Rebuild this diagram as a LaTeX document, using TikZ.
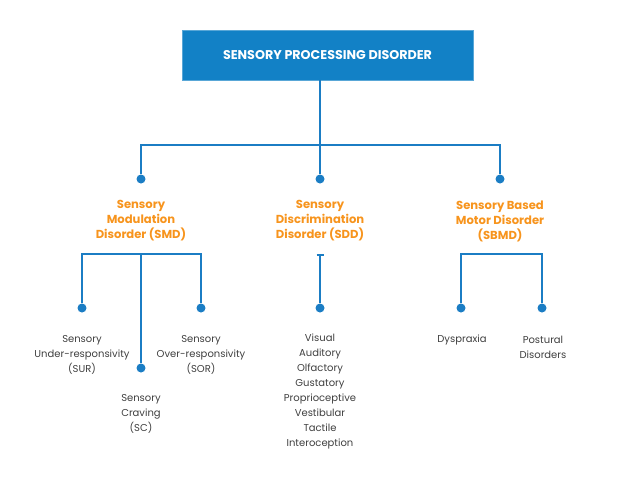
\documentclass[tikz,border=0pt]{standalone}
\usepackage{fontspec}
\setmainfont{Poppins}
\usepackage{tikz}
\usetikzlibrary{arrows.meta, positioning, calc}
\definecolor{spdblue}{HTML}{1281C6}
\definecolor{spdline}{HTML}{1B7DC4}
\definecolor{spdorange}{HTML}{F7941D}
\definecolor{spdgray}{HTML}{3F3F3F}

\begin{document}
\begin{tikzpicture}[
  x=1pt, y=-1pt,
  topbox/.style={rectangle, fill=spdblue, draw=spdblue!70, text=white, minimum width=291pt, minimum height=50pt, inner sep=0pt, font=\fontsize{12.7}{14}\selectfont\bfseries},
  group/.style={text=spdorange, align=center, inner sep=0pt, font=\fontsize{11.6}{15}\selectfont\bfseries},
  item/.style={text=spdgray, align=center, inner sep=0pt, font=\fontsize{10}{15}\selectfont},
  dot/.style={circle, fill=spdline, minimum size=9pt, inner sep=0pt},
  link/.style={draw=spdline, line width=2pt}
]
  \useasboundingbox (0,0) rectangle (619,480);

  \node[topbox] (spd) at (327.5,55) {SENSORY PROCESSING DISORDER};

  % level 1
  \coordinate (bus) at (320,145);
  \node[dot] (smddot) at (141,179) {};
  \node[dot] (sdddot) at (320,179) {};
  \node[dot] (sbmddot) at (500,179) {};

  \node[group] (smd) at (141,221) {Sensory\\Modulation\\Disorder (SMD)};
  \node[group] (sdd) at (320,221) {Sensory\\Discrimination\\Disorder (SDD)};
  \node[group] (sbmd) at (500,221) {Sensory Based\\Motor Disorder\\(SBMD)};

  % level 2
  \coordinate (smdbar) at (141,254);
  \coordinate (sddbar) at (320,254);
  \coordinate (sbmdbar) at (501,254);
  \node[dot] (surdot) at (82,308) {};
  \node[dot] (sordot) at (201,308) {};
  \node[dot] (scdot) at (141,368) {};
  \node[dot] (listdot) at (320,308) {};
  \node[dot] (dysdot) at (461,308) {};
  \node[dot] (posdot) at (542,308) {};

  \node[item] (sur) at (82,355) {Sensory\\Under-responsivity\\(SUR)};
  \node[item] (sor) at (201,355) {Sensory\\Over-responsivity\\(SOR)};
  \node[item] (sc) at (141,414) {Sensory\\Craving\\(SC)};
  \node[item] (senses) at (320,391.5) {Visual\\Auditory\\Olfactory\\Gustatory\\Proprioceptive\\Vestibular\\Tactile\\Interoception};
  \node[item] (dys) at (462,339.5) {Dyspraxia};
  \node[item] (pos) at (543,347.5) {Postural\\Disorders};

  \draw[link] (spd.south -| bus) -- (bus);
  \draw[link] (smddot) |- (bus) -| (sbmddot);
  \draw[link] (bus) -- (sdddot);

  \draw[link] (surdot) |- (smdbar) -| (sordot);
  \draw[link] (smdbar) -- (scdot);
  \draw[link, {Bar[width=7pt]}-] (sddbar) -- (listdot);
  \draw[link] (dysdot) |- (sbmdbar) -| (posdot);
\end{tikzpicture}
\end{document}
